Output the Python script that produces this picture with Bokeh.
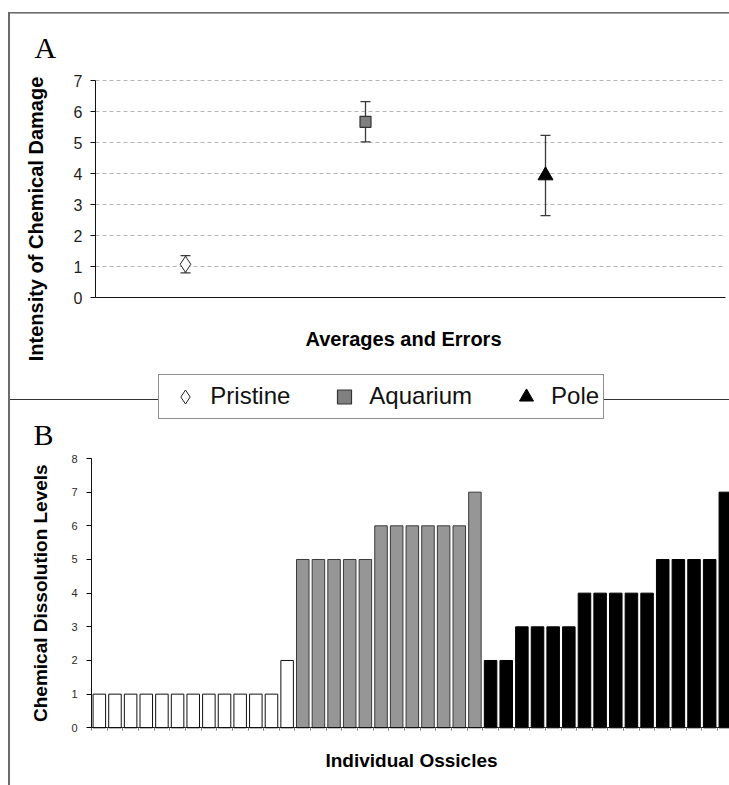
import numpy as np
from bokeh.plotting import figure
from bokeh.models import (Range1d, FixedTicker, Whisker, TeeHead, ColumnDataSource,
                          Legend, LegendItem, Label)
from bokeh.layouts import column
from bokeh.embed import file_html
from bokeh.resources import INLINE

# ---------------- data ----------------
groups = ["Pristine", "Aquarium", "Pole"]
group_pos = [0.5, 1.5, 2.5]
means = [1.08, 5.67, 3.94]
errors = [0.28, 0.65, 1.29]

pristine_levels = [1, 1, 1, 1, 1, 1, 1, 1, 1, 1, 1, 1, 2]
aquarium_levels = [5, 5, 5, 5, 5, 6, 6, 6, 6, 6, 6, 7]
pole_levels = [2, 2, 3, 3, 3, 3, 4, 4, 4, 4, 4, 5, 5, 5, 5, 7]

a_ticks = [0, 1, 2, 3, 4, 5, 6, 7]
b_ticks = [0, 1, 2, 3, 4, 5, 6, 7, 8]

FRAME_COL = "#6b6b6b"
SANS = "Liberation Sans"
SERIF = "Liberation Serif"
W = 729
FRAME_LEFT = 24          # both figures: frame starts here (column aligns the frames)


def canvas_label(p, text, x, y, size, font=SANS, style="bold", angle=0.0,
                 align="center", baseline="middle"):
    p.add_layout(Label(x=x, y=y, x_units="canvas", y_units="canvas", text=text, angle=angle,
                       text_font=font, text_font_size=size, text_font_style=style,
                       text_align=align, text_baseline=baseline, text_color="#000000"))


# ---------------- panel A ----------------
HA = 451
A_TOP = 30
A_AX0_X, A_AX1_X = 95, 725          # pixel position of x = 0 and x = 3.5
A_Y0_PX, A_PX_PER_UNIT = 297.3, 31.04
a_xscale = (A_AX1_X - A_AX0_X) / 3.5
a_x_start = -(A_AX0_X - FRAME_LEFT) / a_xscale
a_x_end = 3.5 + (W - A_AX1_X) / a_xscale
a_y_end = 7 + (80 - A_TOP) / A_PX_PER_UNIT
a_y_start = -(HA - A_Y0_PX) / A_PX_PER_UNIT

pA = figure(width=W, height=HA, x_range=Range1d(a_x_start, a_x_end),
            y_range=Range1d(a_y_start, a_y_end),
            output_backend="svg", toolbar_location=None, x_axis_location="above",
            min_border_left=FRAME_LEFT, min_border_right=0, min_border_top=A_TOP,
            min_border_bottom=0)
pA.title.visible = False
pA.outline_line_color = None
pA.background_fill_alpha = 0
pA.border_fill_alpha = 0
pA.styles = {"background": (
    f"linear-gradient({FRAME_COL},{FRAME_COL}) 8px 12px / 100% 1.6px no-repeat, "
    f"linear-gradient({FRAME_COL},{FRAME_COL}) 8px 12px / 2px 100% no-repeat, "
    "linear-gradient(#333333,#333333) 8px 399px / 100% 1.4px no-repeat")}

pA.xgrid.visible = False
pA.ygrid.ticker = FixedTicker(ticks=a_ticks[1:])
pA.ygrid.grid_line_color = "#b5b5b5"
pA.ygrid.grid_line_dash = "4 3"
pA.ygrid.grid_line_width = 1
try:
    pA.ygrid.cross_bounds = (0, 3.5)
except Exception:
    pA.ygrid.visible = False
    pA.segment(x0=0, x1=3.5, y0=a_ticks[1:], y1=a_ticks[1:], line_color="#b5b5b5",
               line_dash="4 3", line_width=1)

pA.yaxis.fixed_location = 0
pA.yaxis.bounds = (0, 7)
pA.yaxis.ticker = FixedTicker(ticks=a_ticks)
pA.yaxis.major_label_text_font = SANS
pA.yaxis.major_label_text_font_size = "16px"
pA.yaxis.major_label_text_color = "#1e1e1e"
pA.yaxis.major_tick_out = 5
pA.yaxis.major_tick_in = 0
pA.yaxis.minor_tick_line_color = None
pA.yaxis.major_label_standoff = 8
pA.yaxis.axis_line_color = "#111111"
pA.yaxis.major_tick_line_color = "#111111"

pA.xaxis.fixed_location = 0
pA.xaxis.bounds = (0, 3.5)
pA.xaxis.ticker = FixedTicker(ticks=[])
pA.xaxis.major_tick_out = 0
pA.xaxis.major_label_standoff = 0
pA.xaxis.axis_line_color = "#111111"

# error bars
src = ColumnDataSource(dict(x=group_pos,
                            upper=[m + e for m, e in zip(means, errors)],
                            lower=[m - e for m, e in zip(means, errors)]))
wk = Whisker(source=src, base="x", upper="upper", lower="lower",
             line_color="#3a3a3a", line_width=1.3, level="underlay",
             upper_head=TeeHead(size=10, line_color="#3a3a3a", line_width=1.3),
             lower_head=TeeHead(size=10, line_color="#3a3a3a", line_width=1.3))
pA.add_layout(wk)

r_pr = pA.scatter(x=[group_pos[0]], y=[means[0]], marker="diamond", size=16,
                  fill_color="white", line_color="#222222", line_width=1)
r_aq = pA.scatter(x=[group_pos[1]], y=[means[1]], marker="square", size=11,
                  fill_color="#808080", line_color="#333333", line_width=1.2)
r_po = pA.scatter(x=[group_pos[2]], y=[means[2]], marker="triangle", size=15,
                  fill_color="black", line_color="black", line_width=1)

legend = Legend(items=[LegendItem(label=groups[0], renderers=[r_pr]),
                       LegendItem(label=groups[1], renderers=[r_aq]),
                       LegendItem(label=groups[2], renderers=[r_po])],
                orientation="horizontal", location=(158.3 - FRAME_LEFT, HA - 418.7),
                label_text_font=SANS, label_text_font_size="24px", label_text_color="#111111",
                glyph_width=44, glyph_height=35, label_standoff=3, spacing=32,
                padding=4, margin=0, border_line_color="#222222", border_line_width=1.4,
                background_fill_color="white", background_fill_alpha=1.0)
pA.add_layout(legend)

canvas_label(pA, "A", 34, 47, "30px", font=SERIF, style="normal", align="left")
canvas_label(pA, "Intensity of Chemical Damage", 35.7, 218.5, "20px", angle=np.pi / 2)
canvas_label(pA, "Averages and Errors", 403, 338.5, "20px")
canvas_label(pA, "B", 33, 434, "30px", font=SERIF, style="normal", align="left")

# ---------------- panel B ----------------
HB = 785 - HA
B_AX0_X = 91                 # pixel of x = 0 (the y axis)
B_PITCH = 15.65              # pixels per ossicle
B_TOP_IMG, B_ZERO_IMG = 458, 727.3
B_BOTTOM_BORDER = 10
b_px_per_unit = (B_ZERO_IMG - B_TOP_IMG) / 8
b_x_start = -(B_AX0_X - FRAME_LEFT) / B_PITCH
b_x_end = (W - B_AX0_X) / B_PITCH
b_y_start = -((785 - B_BOTTOM_BORDER) - B_ZERO_IMG) / b_px_per_unit
b_y_end = 8 + (B_TOP_IMG - HA) / b_px_per_unit
n_total = len(pristine_levels) + len(aquarium_levels) + len(pole_levels)

pB = figure(width=W, height=HB, x_range=Range1d(b_x_start, b_x_end),
            y_range=Range1d(b_y_start, b_y_end),
            output_backend="svg", toolbar_location=None,
            min_border_left=FRAME_LEFT, min_border_right=0, min_border_top=0,
            min_border_bottom=B_BOTTOM_BORDER)
pB.title.visible = False
pB.outline_line_color = None
pB.background_fill_alpha = 0
pB.border_fill_alpha = 0
pB.styles = {"background": (
    f"linear-gradient({FRAME_COL},{FRAME_COL}) 8px 0px / 2px 100% no-repeat")}
pB.grid.visible = False

start = 0
for levels, fill, line in [(pristine_levels, "white", "#111111"),
                           (aquarium_levels, "#969696", "#3a3a3a"),
                           (pole_levels, "black", "black")]:
    xs = [start + i + 0.5 for i in range(len(levels))]
    pB.vbar(x=xs, top=levels, bottom=0, width=0.8, fill_color=fill, line_color=line, line_width=1)
    start += len(levels)

pB.yaxis.fixed_location = 0
pB.yaxis.bounds = (0, 8)
pB.yaxis.ticker = FixedTicker(ticks=b_ticks)
pB.yaxis.major_label_text_font = SANS
pB.yaxis.major_label_text_font_size = "11px"
pB.yaxis.major_label_text_color = "#2a2a2a"
pB.yaxis.major_tick_out = 5
pB.yaxis.major_tick_in = 0
pB.yaxis.minor_tick_line_color = None
pB.yaxis.major_label_standoff = 9
pB.yaxis.axis_line_color = "#111111"

pB.xaxis.fixed_location = 0
pB.xaxis.bounds = (0, b_x_end)
pB.xaxis.ticker = FixedTicker(ticks=[], minor_ticks=list(range(0, n_total)))
pB.xaxis.major_tick_out = 0
pB.xaxis.major_label_standoff = 0
pB.xaxis.minor_tick_out = 3
pB.xaxis.minor_tick_in = 0
pB.xaxis.minor_tick_line_color = "#777777"
pB.xaxis.axis_line_color = "#111111"

canvas_label(pB, "Chemical Dissolution Levels", 40.2, (B_TOP_IMG + B_ZERO_IMG) / 2 - HA,
             "19px", angle=np.pi / 2)
canvas_label(pB, "Individual Ossicles", 411, 760 - HA, "19px")

layout = column(pA, pB)
open("out.html", "w").write(file_html(layout, INLINE))
